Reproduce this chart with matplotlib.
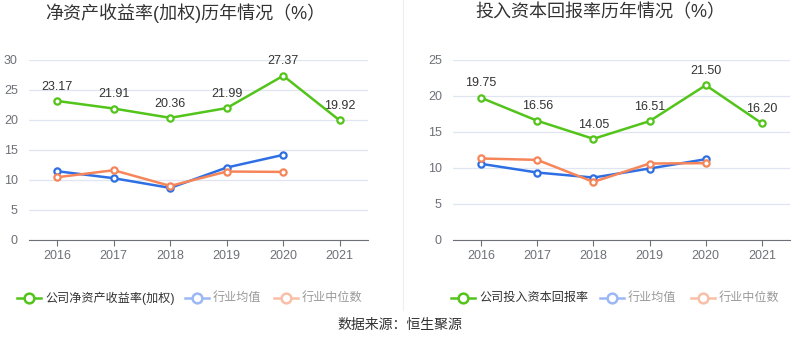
import matplotlib
matplotlib.use("Agg")
import matplotlib.pyplot as plt
from matplotlib.lines import Line2D

plt.rcParams['font.family'] = ['Liberation Sans', 'Noto Sans CJK SC', 'DejaVu Sans']

years = ['2016', '2017', '2018', '2019', '2020', '2021']

# 净资产收益率(加权)
roe_company = [23.17, 21.91, 20.36, 21.99, 27.37, 19.92]
roe_mean = [11.46, 10.3, 8.68, 12.08, 14.19]
roe_median = [10.46, 11.63, 9.01, 11.41, 11.35]

# 投入资本回报率
roic_company = [19.75, 16.56, 14.05, 16.51, 21.50, 16.20]
roic_mean = [10.58, 9.37, 8.67, 9.93, 11.22]
roic_median = [11.32, 11.13, 8.07, 10.62, 10.67]

green = '#52c41a'
blue = '#2f6fe4'
orange = '#f6855a'
blue_l = '#9bb8f5'
orange_l = '#f9bfa8'

fig = plt.figure(figsize=(8, 3.58), dpi=100)


def draw(ax, comp, mean, median, ymax, title, cx):
    x = list(range(len(years)))
    for i in range(0, ymax + 1, 5):
        ax.axhline(i, color='#e0e6f1', lw=0.9, zorder=0)
    ax.plot(x[:len(mean)], mean, color=blue, lw=1.8, marker='o', ms=4.5,
            mfc='white', mew=1.6, zorder=3)
    ax.plot(x[:len(median)], median, color=orange, lw=1.8, marker='o', ms=4.5,
            mfc='white', mew=1.6, zorder=3)
    ax.plot(x, comp, color=green, lw=1.8, marker='o', ms=4.5,
            mfc='white', mew=1.6, zorder=4)
    for xi, v in zip(x, comp):
        ax.annotate('%.2f' % v, (xi, v), xytext=(0, 6), textcoords='offset points',
                    ha='center', va='bottom', fontsize=9, color='#333333')
    ax.set_xlim(-0.5, 5.5)
    ax.set_ylim(0, ymax)
    ax.set_xticks(x)
    ax.set_xticklabels(years)
    ax.set_yticks(range(0, ymax + 1, 5))
    for s in ['top', 'right', 'left']:
        ax.spines[s].set_visible(False)
    ax.spines['bottom'].set_color('#6e7079')
    ax.tick_params(axis='y', length=0, labelcolor='#6e7079', labelsize=9, pad=8)
    ax.tick_params(axis='x', length=4, color='#6e7079', labelcolor='#6e7079',
                   labelsize=9, pad=3)
    fig.text(cx, 1 - 13 / 358, title, ha='center', va='center', fontsize=13,
             color='#333333')


ax1 = fig.add_axes([29 / 800, 1 - 240 / 358, 339 / 800, 180 / 358])
draw(ax1, roe_company, roe_mean, roe_median, 30, '净资产收益率(加权)历年情况（%）', 185 / 800)
ax2 = fig.add_axes([453 / 800, 1 - 240 / 358, 337 / 800, 180 / 358])
draw(ax2, roic_company, roic_mean, roic_median, 25, '投入资本回报率历年情况（%）', 600 / 800)

# separator
fig.add_artist(Line2D([403 / 800, 403 / 800], [1 - 310 / 358, 1], color='#eeeeee', lw=0.8))


def legend_item(xc, label, color, tcolor):
    y = 1 - 298 / 358
    fig.add_artist(Line2D([(xc - 12) / 800, (xc + 12) / 800], [y, y], color=color, lw=1.8))
    fig.add_artist(Line2D([xc / 800], [y], marker='o', ms=7, mfc='white', mec=color,
                          mew=1.8, color=color))
    fig.text((xc + 16) / 800, y, label, ha='left', va='center', fontsize=8.7, color=tcolor)


legend_item(29, '公司净资产收益率(加权)', green, '#333333')
legend_item(197, '行业均值', blue_l, '#999999')
legend_item(286, '行业中位数', orange_l, '#999999')
legend_item(463, '公司投入资本回报率', green, '#333333')
legend_item(612, '行业均值', blue_l, '#999999')
legend_item(703, '行业中位数', orange_l, '#999999')

fig.text(0.5, 1 - 325 / 358, '数据来源：恒生聚源', ha='center', va='center',
         fontsize=10, color='#333333')

fig.savefig('out.png', dpi=100)
